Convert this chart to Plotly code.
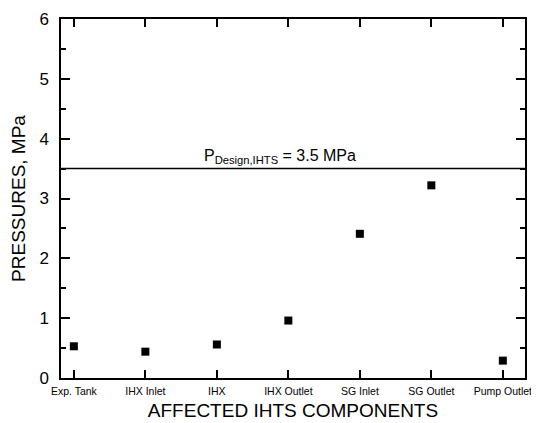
import plotly.graph_objects as go

components = ["Exp. Tank", "IHX Inlet", "IHX", "IHX Outlet", "SG Inlet", "SG Outlet", "Pump Outlet"]
pressures = [0.53, 0.44, 0.56, 0.96, 2.41, 3.22, 0.29]
design_pressure = 3.5
y_ticks = [0, 1, 2, 3, 4, 5, 6]

FONT = "Liberation Sans, Arial, sans-serif"

fig = go.Figure()
fig.add_trace(go.Scatter(
    x=components, y=pressures, mode="markers",
    marker=dict(symbol="square", size=8, color="black"),
    showlegend=False,
))

fig.add_shape(type="line", xref="paper", x0=0, x1=1, yref="y",
              y0=design_pressure, y1=design_pressure,
              line=dict(color="black", width=1.5))

fig.add_annotation(x=0.472, y=design_pressure, xref="paper", yref="y",
                   text="P<sub>Design,IHTS</sub> = 3.5 MPa",
                   showarrow=False, yanchor="bottom", yshift=1,
                   font=dict(family=FONT, size=16, color="black"))

# page body has an 8px default margin, so the figure is sized to fit the window
fig.update_layout(
    width=531, height=415,
    margin=dict(l=53, r=14, t=11, b=45),
    paper_bgcolor="white", plot_bgcolor="white",
    font=dict(family=FONT, color="black"),
)

fig.update_xaxes(
    type="category", range=[-0.18, 6.31],
    showline=True, linecolor="black", linewidth=1.5, mirror="allticks",
    ticks="inside", ticklen=8, tickwidth=1.5, tickcolor="black",
    tickfont=dict(size=10.5, family=FONT), ticklabelstandoff=3,
    title=dict(text="AFFECTED IHTS COMPONENTS", font=dict(size=19, family=FONT), standoff=7),
    showgrid=False, zeroline=False, automargin=False,
)

fig.update_yaxes(
    range=[0, 6], tickvals=y_ticks,
    showline=True, linecolor="black", linewidth=1.5, mirror="allticks",
    ticks="inside", ticklen=9, tickwidth=1.5, tickcolor="black",
    minor=dict(ticks="inside", ticklen=5, tickwidth=1.5, tickcolor="black", dtick=0.5, showgrid=False),
    tickfont=dict(size=17, family=FONT), ticklabelstandoff=7,
    title=dict(text="PRESSURES, MPa", font=dict(size=19, family=FONT), standoff=10),
    showgrid=False, zeroline=False, automargin=False,
)

fig.write_html("out.html")
